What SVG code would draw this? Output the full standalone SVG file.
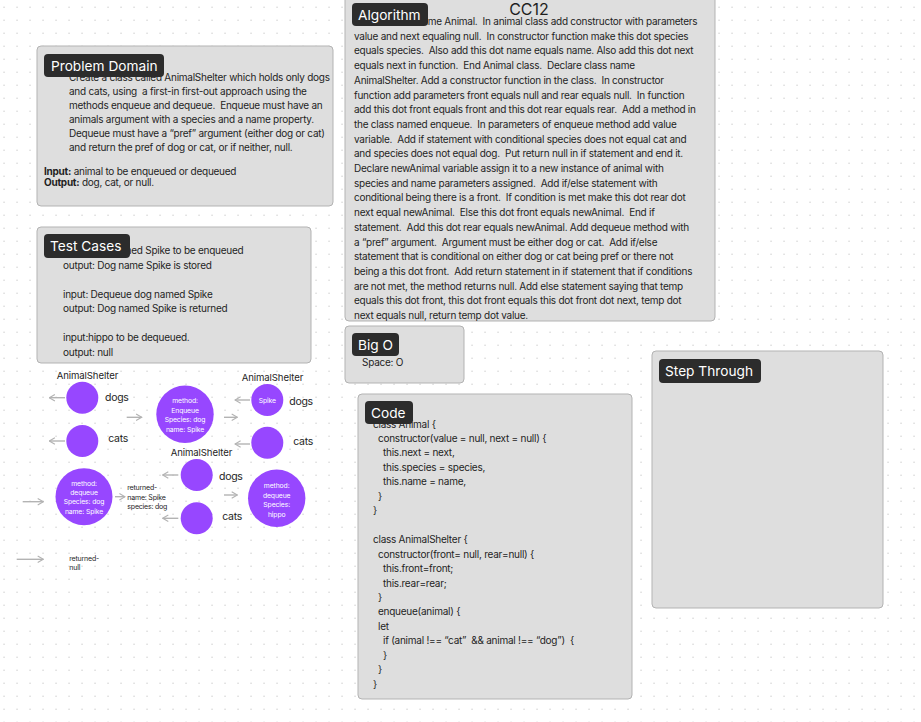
<svg xmlns="http://www.w3.org/2000/svg" width="921" height="722" viewBox="0 0 921 722">
<defs>
<pattern id="grid" x="0" y="0" width="13" height="13" patternUnits="userSpaceOnUse"><rect x="3.4" y="6.6" width="1.3" height="1.3" fill="#d2d2d2"/></pattern>
<marker id="arr" viewBox="0 0 10 10" markerUnits="userSpaceOnUse" markerWidth="8" markerHeight="8" refX="9" refY="5" orient="auto"><path d="M2,1 L9,5 L2,9" fill="none" stroke="#b3b3b3" stroke-width="1.4"/></marker>
</defs>
<style>
.box{fill:#dedede;stroke:#b3b3b3;stroke-width:1}
.lab{fill:#2c2c2c}
.labt{font-family:Inter,"Noto Sans",sans-serif;font-size:13.7px;fill:#ffffff}
.t{font-family:Inter,"Noto Sans",sans-serif;font-size:10px;letter-spacing:-0.25px;fill:#1e1e1e;white-space:pre}
.c{fill:#9747ff}
.ct{font-family:Inter,"Noto Sans",sans-serif;font-size:6.8px;letter-spacing:-0.1px;fill:#ffffff;text-anchor:middle}
.dl{font-family:Inter,"Noto Sans",sans-serif;font-size:10.5px;letter-spacing:-0.3px;fill:#1e1e1e}
.al{font-family:Inter,"Noto Sans",sans-serif;font-size:9.6px;letter-spacing:-0.1px;fill:#1e1e1e}
.sl{font-family:Inter,"Noto Sans",sans-serif;font-size:7px;letter-spacing:-0.2px;fill:#1e1e1e}
.con{stroke:#b3b3b3;stroke-width:1.4;fill:none;marker-end:url(#arr)}
</style>
<rect width="921" height="722" fill="#ffffff"/>
<rect width="921" height="722" fill="url(#grid)"/>

<g id="algorithm">
<rect class="box" x="345" y="-10" width="370" height="331" rx="4"/>
<text class="t" x="354" y="25">Declare class name Animal.  In animal class add constructor with parameters</text>
<text class="t" x="354" y="39.7">value and next equaling null.  In constructor function make this dot species</text>
<text class="t" x="354" y="54.4">equals species.  Also add this dot name equals name. Also add this dot next</text>
<text class="t" x="354" y="69.1">equals next in function.  End Animal class.  Declare class name</text>
<text class="t" x="354" y="83.8">AnimalShelter. Add a constructor function in the class.  In constructor</text>
<text class="t" x="354" y="98.5">function add parameters front equals null and rear equals null.  In function</text>
<text class="t" x="354" y="113.2">add this dot front equals front and this dot rear equals rear.  Add a method in</text>
<text class="t" x="354" y="127.9">the class named enqueue.  In parameters of enqueue method add value</text>
<text class="t" x="354" y="142.6">variable.  Add if statement with conditional species does not equal cat and</text>
<text class="t" x="354" y="157.3">and species does not equal dog.  Put return null in if statement and end it.</text>
<text class="t" x="354" y="172">Declare newAnimal variable assign it to a new instance of animal with</text>
<text class="t" x="354" y="186.7">species and name parameters assigned.  Add if/else statement with</text>
<text class="t" x="354" y="201.4">conditional being there is a front.  If condition is met make this dot rear dot</text>
<text class="t" x="354" y="216.1">next equal newAnimal.  Else this dot front equals newAnimal.  End if</text>
<text class="t" x="354" y="230.8">statement.  Add this dot rear equals newAnimal. Add dequeue method with</text>
<text class="t" x="354" y="245.5">a “pref” argument.  Argument must be either dog or cat.  Add if/else</text>
<text class="t" x="354" y="260.2">statement that is conditional on either dog or cat being pref or there not</text>
<text class="t" x="354" y="274.9">being a this dot front.  Add return statement in if statement that if conditions</text>
<text class="t" x="354" y="289.6">are not met, the method returns null. Add else statement saying that temp</text>
<text class="t" x="354" y="304.3">equals this dot front, this dot front equals this dot front dot next, temp dot</text>
<text class="t" x="354" y="319">next equals null, return temp dot value.</text>
<rect class="lab" x="352" y="3" width="76" height="23" rx="4"/>
<text class="labt" x="358" y="20">Algorithm</text>
<text x="529" y="14.5" text-anchor="middle" font-family="Inter,'Noto Sans',sans-serif" font-size="16" fill="#1e1e1e">CC12</text>
</g>

<g id="problem-domain">
<rect class="box" x="37" y="46" width="296" height="160" rx="4"/>
<text class="t" x="69" y="80.5">Create a class called AnimalShelter which holds only dogs</text>
<text class="t" x="69" y="94.5">and cats, using  a first-in first-out approach using the</text>
<text class="t" x="69" y="108.5">methods enqueue and dequeue.  Enqueue must have an</text>
<text class="t" x="69" y="122.5">animals argument with a species and a name property.</text>
<text class="t" x="69" y="136.5">Dequeue must have a “pref” argument (either dog or cat)</text>
<text class="t" x="69" y="150.5">and return the pref of dog or cat, or if neither, null.</text>
<text class="t" x="44" y="175"><tspan font-weight="bold">Input:</tspan> animal to be enqueued or dequeued</text>
<text class="t" x="44" y="186"><tspan font-weight="bold">Output:</tspan> dog, cat, or null.</text>
<rect class="lab" x="44" y="54" width="120" height="23" rx="4"/>
<text class="labt" x="51" y="70.5">Problem Domain</text>
</g>

<g id="test-cases">
<rect class="box" x="37" y="227" width="274" height="136" rx="4"/>
<text class="t" x="63" y="254">input: Dog named Spike to be enqueued</text>
<text class="t" x="63" y="268.5">output: Dog name Spike is stored</text>
<text class="t" x="63" y="297.5">input: Dequeue dog named Spike</text>
<text class="t" x="63" y="312">output: Dog named Spike is returned</text>
<text class="t" x="63" y="341">input:hippo to be dequeued.</text>
<text class="t" x="63" y="355.5">output: null</text>
<rect class="lab" x="44" y="234" width="86" height="24" rx="4"/>
<text class="labt" x="50" y="251">Test Cases</text>
</g>

<g id="big-o">
<rect class="box" x="345" y="326" width="119" height="57" rx="4"/>
<rect class="lab" x="352" y="333" width="47" height="23" rx="4"/>
<text class="labt" x="358" y="350">Big O</text>
<text class="t" x="362" y="366" font-size="9.5">Space: O</text>
</g>

<g id="code">
<rect class="box" x="358" y="394" width="274" height="305" rx="4"/>
<text class="t" x="373" y="427.5">class Animal {</text>
<text class="t" x="378" y="442">constructor(value = null, next = null) {</text>
<text class="t" x="383" y="456.4">this.next = next,</text>
<text class="t" x="383" y="470.9">this.species = species,</text>
<text class="t" x="383" y="485.3">this.name = name,</text>
<text class="t" x="378" y="499.8">}</text>
<text class="t" x="373" y="514.2">}</text>
<text class="t" x="373" y="543.1">class AnimalShelter {</text>
<text class="t" x="378" y="557.6">constructor(front= null, rear=null) {</text>
<text class="t" x="383" y="572">this.front=front;</text>
<text class="t" x="383" y="586.5">this.rear=rear;</text>
<text class="t" x="378" y="600.9">}</text>
<text class="t" x="378" y="615.4">enqueue(animal) {</text>
<text class="t" x="378" y="629.8">let</text>
<text class="t" x="383" y="644.3">if (animal !== “cat”  &amp;&amp; animal !== “dog”)  {</text>
<text class="t" x="383" y="658.7">}</text>
<text class="t" x="378" y="673.2">}</text>
<text class="t" x="373" y="687.6">}</text>
<rect class="lab" x="365" y="401" width="48" height="23" rx="4"/>
<text class="labt" x="371" y="418">Code</text>
</g>

<g id="step-through">
<rect class="box" x="652" y="351" width="231" height="257" rx="4"/>
<rect class="lab" x="659" y="359" width="102" height="24" rx="4"/>
<text class="labt" x="665" y="376">Step Through</text>
</g>

<g id="connectors">
<path class="con" d="M65,397.7 H49.3"/>
<path class="con" d="M65,441 H49.3"/>
<path class="con" d="M22.7,501.7 H43.3"/>
<path class="con" d="M115,496.7 H125"/>
<path class="con" d="M16.7,559.3 H43.3"/>
<path class="con" d="M126.7,417.3 H141.7"/>
<path class="con" d="M224,417.3 H237.3"/>
<path class="con" d="M250,400 H235"/>
<path class="con" d="M250,444 H235"/>
<path class="con" d="M178.3,475 H162.7"/>
<path class="con" d="M178.3,518.3 H162.7"/>
<path class="con" d="M224,495 H237.3"/>
</g>

<g id="shelter-1">
<text class="al" x="56.7" y="378.5">AnimalShelter</text>
</g>
<g id="dogs-1">
<circle class="c" cx="82.3" cy="397.7" r="16"/>
<text class="dl" x="105" y="401">dogs</text>
</g>
<g id="cats-1">
<circle class="c" cx="82.3" cy="441" r="16"/>
<text class="dl" x="108.3" y="441.5">cats</text>
</g>
<g id="dequeue-dog">
<circle class="c" cx="84" cy="496.7" r="28.5"/>
<text class="ct" x="84" y="485.5">method:</text>
<text class="ct" x="84" y="494.8">dequeue</text>
<text class="ct" x="84" y="504.2">Species: dog</text>
<text class="ct" x="84" y="514">name: Spike</text>
</g>
<g id="returned-spike">
<text class="sl" x="127.3" y="490.2">returned-</text>
<text class="sl" x="127.3" y="499.5">name: Spike</text>
<text class="sl" x="127.3" y="508.8">species: dog</text>
</g>
<g id="returned-null">
<text class="sl" x="69.3" y="560.8">returned-</text>
<text class="sl" x="69.3" y="570.2">null</text>
</g>
<g id="enqueue">
<circle class="c" cx="185" cy="414.3" r="28.7"/>
<text class="ct" x="185" y="402.5">method:</text>
<text class="ct" x="185" y="412.5">Enqueue</text>
<text class="ct" x="185" y="421.8">Species: dog</text>
<text class="ct" x="185" y="431.8">name: Spike</text>
</g>
<g id="shelter-2">
<text class="al" x="241.7" y="381.2">AnimalShelter</text>
</g>
<g id="dogs-2">
<circle class="c" cx="267.3" cy="400" r="16"/>
<text class="ct" x="267.3" y="402.5">Spike</text>
<text class="dl" x="289.3" y="404.5">dogs</text>
</g>
<g id="cats-2">
<circle class="c" cx="267.3" cy="442.7" r="16"/>
<text class="dl" x="293.3" y="444.5">cats</text>
</g>
<g id="shelter-3">
<text class="al" x="170.7" y="456.2">AnimalShelter</text>
</g>
<g id="dogs-3">
<circle class="c" cx="196.7" cy="475" r="16"/>
<text class="dl" x="219" y="479.5">dogs</text>
</g>
<g id="cats-3">
<circle class="c" cx="196.7" cy="518.3" r="16"/>
<text class="dl" x="222.3" y="519.5">cats</text>
</g>
<g id="dequeue-hippo">
<circle class="c" cx="276.7" cy="498.3" r="28.7"/>
<text class="ct" x="276.7" y="487.5">method:</text>
<text class="ct" x="276.7" y="497.5">dequeue</text>
<text class="ct" x="276.7" y="506.8">Species:</text>
<text class="ct" x="276.7" y="516.5">hippo</text>
</g>
</svg>
